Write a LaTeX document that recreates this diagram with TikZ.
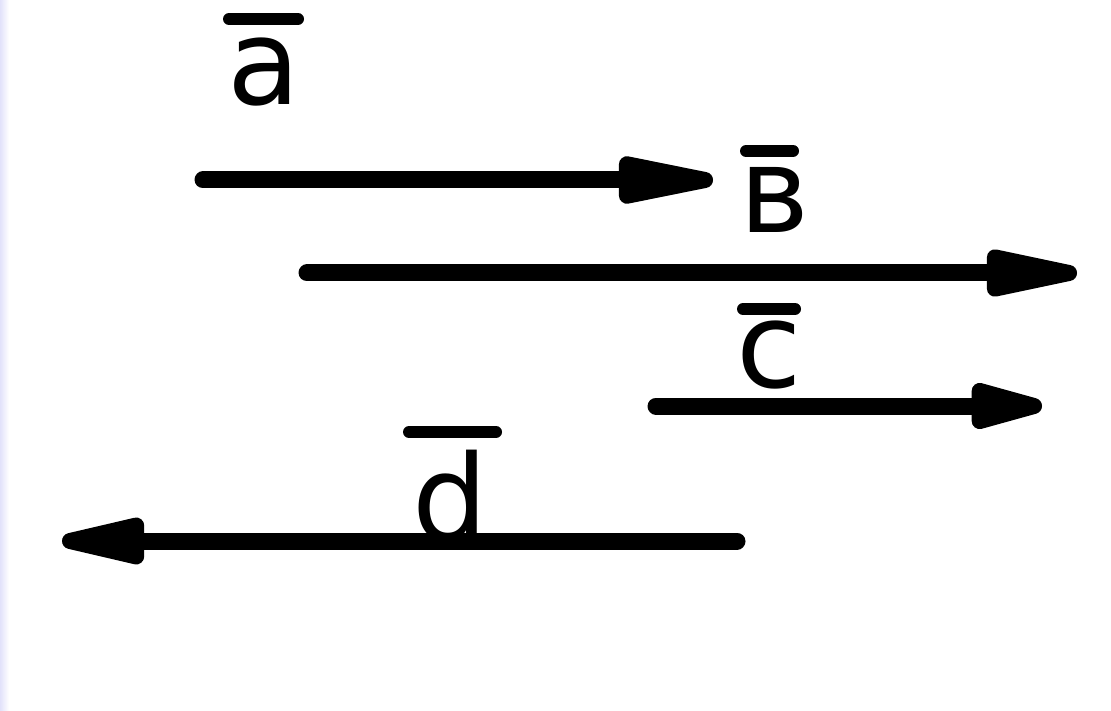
\documentclass[tikz,border=0pt]{standalone}
\usepackage{fontspec}
\setmainfont{DejaVu Sans}
\usetikzlibrary{arrows.meta}
\definecolor{strip}{RGB}{226,226,250}

\begin{document}
\begin{tikzpicture}[
x=1pt, y=-1pt,
vec/.style={line width=17pt, line cap=round, -{Triangle[length=#1, width=46pt, line width=16pt, round]}},
vec/.default=120pt,
bar/.style={line width=12pt, line cap=round},
letter/.style={inner sep=0pt, anchor=base, font=\fontsize{119}{130}\selectfont}
]
\useasboundingbox (0,0) rectangle (1111,711);
\shade[left color=strip, right color=white] (0,0) rectangle (9,711);
% vectors
\coordinate (a1) at (203,180);
\coordinate (a2) at (713,180);
\coordinate (b1) at (307,273);
\coordinate (b2) at (1077,273);
\coordinate (c1) at (656,406);
\coordinate (c2) at (1042,406);
\coordinate (d1) at (737,541);
\coordinate (d2) at (62,541);
\draw[vec=133pt] (a1) -- (a2);
\draw[vec=127pt] (b1) -- (b2);
\draw[vec=97pt] (c1) -- (c2);
\draw[vec=115pt] (d1) -- (d2);
% labels
\node[letter] (la) at (264,105) {a};
\node[letter] (lb) at (775,233) {в};
\node[letter] (lc) at (769,387) {c};
\node[letter] (ld) at (450,540) {d};
\draw[bar] (229,19) -- (298,19);
\draw[bar] (746,151) -- (793,151);
\draw[bar] (743,309) -- (795,309);
\draw[bar] (409,432) -- (496,432);
\end{tikzpicture}
\end{document}
